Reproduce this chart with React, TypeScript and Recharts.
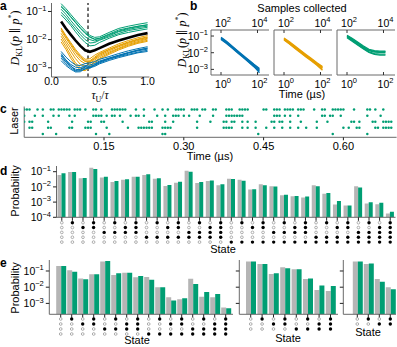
import React from "react";
import {
  LineChart,
  Line,
  BarChart,
  Bar,
  ScatterChart,
  Scatter,
  XAxis,
  YAxis,
  ReferenceLine,
} from "recharts";

const BLUE = "#0072B2";
const ORANGE = "#E69F00";
const GREEN = "#009E73";
const GRAY = "#b5b5b5";
const SPINE = "#6a6a6a";
const FONT = "'Liberation Sans', Arial, sans-serif";
const MATH = "'Liberation Serif', 'DejaVu Serif', serif";

// ---- panel a : D_KL vs tau_U / tau
const tauRatio = [0.1, 0.15, 0.2, 0.25, 0.3, 0.35, 0.4, 0.45, 0.5, 0.6, 0.7, 0.8, 0.9, 1.0];
const tauMark = 0.38;
const aGreen = [
  [1.9e-1, 1.26e-1, 7.9e-2, 5.0e-2, 3.2e-2, 2.1e-2, 1.4e-2, 1.2e-2, 1.26e-2, 1.8e-2, 2.5e-2, 3.0e-2, 3.5e-2, 4.0e-2],
  [1.45e-1, 1.0e-1, 6.3e-2, 4.0e-2, 2.5e-2, 1.66e-2, 1.2e-2, 1.05e-2, 1.12e-2, 1.58e-2, 2.2e-2, 2.6e-2, 3.0e-2, 3.4e-2],
  [1.2e-1, 7.9e-2, 4.8e-2, 3.0e-2, 1.9e-2, 1.26e-2, 1.0e-2, 8.9e-3, 1.0e-2, 1.38e-2, 1.9e-2, 2.3e-2, 2.7e-2, 3.0e-2],
  [9.3e-2, 6.3e-2, 3.8e-2, 2.4e-2, 1.5e-2, 1.0e-2, 7.6e-3, 7.9e-3, 9.5e-3, 1.26e-2, 1.66e-2, 2.1e-2, 2.4e-2, 2.75e-2],
  [7.6e-2, 5.0e-2, 3.2e-2, 1.9e-2, 1.17e-2, 7.9e-3, 6.0e-3, 6.3e-3, 7.9e-3, 1.12e-2, 1.5e-2, 1.8e-2, 2.1e-2, 2.4e-2],
  [1.58e-1, 1.07e-1, 6.6e-2, 4.2e-2, 2.6e-2, 1.78e-2, 1.26e-2, 1.0e-2, 1.1e-2, 1.5e-2, 2.0e-2, 2.5e-2, 2.95e-2, 3.3e-2],
];
const aOrange = [
  [2.6e-2, 1.4e-2, 7.9e-3, 4.5e-3, 2.8e-3, 2.0e-3, 2.1e-3, 2.8e-3, 3.5e-3, 5.0e-3, 7.1e-3, 9.3e-3, 1.17e-2, 1.4e-2],
  [2.1e-2, 1.12e-2, 6.3e-3, 3.5e-3, 2.2e-3, 1.66e-3, 1.78e-3, 2.4e-3, 3.2e-3, 4.5e-3, 6.3e-3, 8.3e-3, 1.05e-2, 1.26e-2],
  [1.66e-2, 8.9e-3, 5.0e-3, 2.8e-3, 1.78e-3, 1.41e-3, 1.58e-3, 2.1e-3, 2.75e-3, 4.0e-3, 5.6e-3, 7.4e-3, 9.3e-3, 1.12e-2],
  [1.32e-2, 7.1e-3, 3.8e-3, 2.1e-3, 1.32e-3, 1.12e-3, 1.41e-3, 1.9e-3, 2.5e-3, 3.6e-3, 5.0e-3, 6.8e-3, 8.5e-3, 1.05e-2],
  [1.05e-2, 5.6e-3, 2.8e-3, 1.5e-3, 1.0e-3, 8.9e-4, 1.2e-3, 1.66e-3, 2.2e-3, 3.3e-3, 4.7e-3, 6.3e-3, 7.9e-3, 9.5e-3],
  [8.3e-3, 4.5e-3, 2.2e-3, 1.26e-3, 8.3e-4, 7.9e-4, 1.05e-3, 1.5e-3, 2.0e-3, 3.0e-3, 4.3e-3, 5.8e-3, 7.4e-3, 8.7e-3],
  [2.4e-2, 1.26e-2, 7.1e-3, 4.0e-3, 2.5e-3, 1.78e-3, 1.66e-3, 2.2e-3, 3.0e-3, 4.4e-3, 6.0e-3, 7.9e-3, 1.0e-2, 1.2e-2],
];
const aBlue = [
  [3.8e-3, 2.4e-3, 1.66e-3, 1.26e-3, 1.2e-3, 1.41e-3, 1.5e-3, 1.66e-3, 2.0e-3, 2.5e-3, 3.2e-3, 4.0e-3, 4.8e-3, 5.6e-3],
  [3.2e-3, 1.9e-3, 1.32e-3, 1.05e-3, 1.0e-3, 1.2e-3, 1.26e-3, 1.41e-3, 1.74e-3, 2.2e-3, 2.8e-3, 3.5e-3, 4.3e-3, 5.0e-3],
  [2.6e-3, 1.58e-3, 1.12e-3, 8.9e-4, 8.3e-4, 1.05e-3, 1.12e-3, 1.26e-3, 1.58e-3, 2.1e-3, 2.6e-3, 3.3e-3, 4.0e-3, 4.6e-3],
  [2.2e-3, 1.38e-3, 1.0e-3, 7.6e-4, 7.9e-4, 8.9e-4, 1.05e-3, 1.2e-3, 1.48e-3, 2.0e-3, 2.5e-3, 3.0e-3, 3.6e-3, 4.2e-3],
  [1.78e-3, 1.2e-3, 8.9e-4, 7.1e-4, 7.2e-4, 9.5e-4, 1.0e-3, 1.12e-3, 1.38e-3, 1.82e-3, 2.3e-3, 2.8e-3, 3.4e-3, 3.8e-3],
  [2.8e-3, 1.78e-3, 1.2e-3, 7.9e-4, 8.9e-4, 1.12e-3, 9.5e-4, 1.32e-3, 1.62e-3, 2.2e-3, 2.75e-3, 3.4e-3, 4.2e-3, 5.0e-3],
];
const aMean = [4.4e-2, 2.5e-2, 1.5e-2, 9.3e-3, 6.0e-3, 4.2e-3, 3.7e-3, 4.2e-3, 5.0e-3, 7.1e-3, 9.3e-3, 1.17e-2, 1.45e-2, 1.7e-2];

// ---- panel b : D_KL vs time (us); samples = 100 x time
const bTime = [1, 2, 4, 8, 16, 32, 64, 128];
const bBlue = [
  [8.3e-2, 4.8e-2, 2.5e-2, 1.32e-2, 7.1e-3, 3.8e-3, 2.0e-3, 1.12e-3],
  [7.2e-2, 4.2e-2, 2.2e-2, 1.17e-2, 6.3e-3, 3.2e-3, 1.66e-3, 8.9e-4],
  [6.3e-2, 3.6e-2, 1.9e-2, 1.0e-2, 5.4e-3, 2.8e-3, 1.45e-3, 7.6e-4],
  [7.9e-2, 4.4e-2, 2.3e-2, 1.26e-2, 6.0e-3, 3.5e-3, 1.9e-3, 1.0e-3],
  [6.8e-2, 3.8e-2, 2.1e-2, 1.07e-2, 5.8e-3, 3.0e-3, 1.5e-3, 6.3e-4],
];
const bOrange = [
  [7.6e-2, 4.5e-2, 2.5e-2, 1.41e-2, 7.9e-3, 4.5e-3, 2.5e-3, 1.5e-3],
  [6.6e-2, 3.8e-2, 2.1e-2, 1.17e-2, 6.6e-3, 3.8e-3, 2.1e-3, 1.2e-3],
  [5.8e-2, 3.3e-2, 1.82e-2, 1.0e-2, 5.6e-3, 3.2e-3, 1.74e-3, 8.9e-4],
  [7.1e-2, 4.0e-2, 2.3e-2, 1.26e-2, 6.9e-3, 4.0e-3, 2.3e-3, 1.32e-3],
  [6.2e-2, 3.5e-2, 1.9e-2, 1.1e-2, 6.0e-3, 3.5e-3, 1.9e-3, 1.0e-3],
];
const bGreen = [
  [1.12e-1, 7.1e-2, 4.2e-2, 2.5e-2, 1.58e-2, 1.32e-2, 1.26e-2, 1.26e-2],
  [1.0e-1, 6.0e-2, 3.5e-2, 2.1e-2, 1.32e-2, 1.1e-2, 1.05e-2, 1.05e-2],
  [8.9e-2, 5.2e-2, 3.0e-2, 1.82e-2, 1.12e-2, 8.9e-3, 8.3e-3, 8.3e-3],
  [1.05e-1, 6.3e-2, 3.8e-2, 2.2e-2, 1.41e-2, 1.2e-2, 1.1e-2, 1.15e-2],
  [7.9e-2, 4.8e-2, 2.8e-2, 1.66e-2, 1.05e-2, 7.9e-3, 7.2e-3, 7.1e-3],
];

// ---- panel c : laser firing slots (5 ns each), one list per laser
const slotWidth = 0.005;
const laserSlots = [
  [0, 1, 2, 5, 7, 10, 11, 13, 14, 15, 16, 17, 19, 20, 21, 23, 26, 27, 29, 33, 34, 35, 36, 37, 38, 42, 45, 49, 52, 54, 57, 58, 59, 60, 63, 64, 65, 67, 68, 71, 72, 76, 77, 78, 81, 82, 83, 84, 90, 91, 94, 95, 96, 98, 99, 100, 101, 103, 104, 105, 109, 112, 113, 116, 117, 118, 119, 120, 124, 129, 130, 132, 135],
  [0, 4, 7, 11, 13, 17, 19, 26, 27, 28, 29, 31, 33, 34, 36, 40, 42, 43, 45, 50, 53, 56, 57, 58, 60, 62, 66, 71, 76, 77, 78, 79, 80, 81, 82, 94, 95, 96, 98, 100, 103, 112, 113, 115, 116, 119, 129, 134],
  [0, 2, 3, 9, 18, 24, 25, 29, 30, 37, 47, 48, 53, 56, 65, 70, 75, 76, 78, 79, 82, 84, 87, 93, 94, 96, 97, 100, 104, 110, 114, 123, 124, 126, 131, 132, 135, 136, 137, 138],
  [2, 3, 9, 10, 17, 18, 23, 24, 25, 31, 39, 43, 44, 45, 46, 47, 48, 52, 53, 54, 55, 65, 75, 76, 77, 78, 82, 84, 87, 91, 94, 97, 100, 103, 106, 110, 120, 122, 125, 126, 132, 133, 135, 136, 137, 138],
  [7, 12, 27, 32, 52, 53, 88, 116, 129],
];
const cTicks = [30, 60, 90, 120];

// ---- panel d : 5-laser state probabilities
const dTarget = [0.06, 0.096, 0.037, 0.184, 0.041, 0.021, 0.03, 0.047, 0.06, 0.035, 0.0114, 0.019, 0.115, 0.018, 0.024, 0.013, 0.034, 0.03, 0.0068, 0.015, 0.011, 0.0028, 0.0024, 0.002, 0.013, 0.0035, 0.0007, 0.0006, 0.011, 0.0008, 0.00072, 0.00018];
const dMeasured = [0.078, 0.096, 0.039, 0.151, 0.047, 0.024, 0.032, 0.047, 0.067, 0.037, 0.0133, 0.022, 0.1, 0.021, 0.026, 0.0148, 0.033, 0.025, 0.0071, 0.013, 0.0105, 0.0031, 0.0025, 0.0023, 0.011, 0.004, 0.0012, 0.0006, 0.0092, 0.00098, 0.0009, 0.00023];

// ---- panel e : 4-, 3- and 2-laser state probabilities
const e16Target = [0.2, 0.11, 0.035, 0.062, 0.38, 0.057, 0.079, 0.041, 0.042, 0.01, 0.0024, 0.0018, 0.033, 0.0026, 0.0024, 0.00055];
const e16Measured = [0.2, 0.091, 0.031, 0.062, 0.41, 0.072, 0.079, 0.049, 0.029, 0.0099, 0.0015, 0.0021, 0.016, 0.0051, 0.0038, 0.0005];
const e8Target = [0.38, 0.27, 0.065, 0.168, 0.127, 0.032, 0.0067, 0.0058];
const e8Measured = [0.38, 0.27, 0.072, 0.146, 0.13, 0.035, 0.0125, 0.012];
const e4Target = [0.38, 0.27, 0.032, 0.0098];
const e4Measured = [0.38, 0.29, 0.022, 0.0075];

// state labels: laser 1 first (top row), "1" = fired
const makeStates = (n: number, bits: number) =>
  Array.from({ length: n }, (_, i) =>
    Array.from({ length: bits }, (_, r) => ((i >> r) & 1 ? "1" : "0")).join("")
  );

const aRows = tauRatio.map((x, i) => {
  const row: Record<string, number> = { x, mean: aMean[i] };
  aGreen.forEach((s, k) => (row["g" + k] = s[i]));
  aOrange.forEach((s, k) => (row["o" + k] = s[i]));
  aBlue.forEach((s, k) => (row["b" + k] = s[i]));
  return row;
});

const bRows = (set: number[][]) =>
  bTime.map((t, i) => {
    const row: Record<string, number> = { t };
    set.forEach((s, k) => (row["s" + k] = s[i]));
    return row;
  });

const cDots = laserSlots.flatMap((slots, k) => slots.map((slot) => ({ slot, laser: k + 1 })));

const barRows = (target: number[], measured: number[], bits: number) => {
  const states = makeStates(target.length, bits);
  return states.map((state, i) => ({ state, target: target[i], measured: measured[i] }));
};

const sup = (e: number) => (e < 0 ? "\u2212" + -e : String(e));

function PowTick(props: any) {
  const { x, y, payload, side = "left", shift = 0, inward = false, m = 3, blank = false } = props;
  if (blank) return <g />;
  const e = Math.round(Math.log10(payload.value)) + shift;
  const label = (tx: number, ty: number, anchor: string) => (
    <text x={tx} y={ty} textAnchor={anchor} fontSize={10.5} fill="#000" fontFamily={FONT}>
      <tspan>10</tspan>
      <tspan dy={-4.5} fontSize={7.5}>
        {sup(e)}
      </tspan>
    </text>
  );
  if (side === "left") {
    return (
      <g>
        {inward && <line x1={x + m} x2={x + m + 3} y1={y} y2={y} stroke="#333" />}
        {label(x, y + 3.8, "end")}
      </g>
    );
  }
  if (side === "top") {
    return (
      <g>
        {inward && <line x1={x} x2={x} y1={y + m} y2={y + m + 3} stroke="#333" />}
        {label(x + 2, y - 0.5, "middle")}
      </g>
    );
  }
  return (
    <g>
      {inward && <line x1={x} x2={x} y1={y - m} y2={y - m - 3} stroke="#333" />}
      {label(x + 2, y + 9.5, "middle")}
    </g>
  );
}

function StateTick(props: any) {
  const { x, y, payload, step, first } = props;
  const bits: string = payload.value;
  return (
    <g>
      {bits.split("").map((b, r) =>
        b === "1" ? (
          <circle key={r} cx={x} cy={y + first + r * step} r={1.7} fill="#000" />
        ) : (
          <circle key={r} cx={x} cy={y + first + r * step} r={1.35} fill="#fff" stroke="#9a9a9a" strokeWidth={0.8} />
        )
      )}
    </g>
  );
}

const laserDot = (p: any) => <circle cx={p.cx} cy={p.cy} r={1.25} fill={GREEN} />;

function KLLabel({ x, y }: { x: number; y: number }) {
  return (
    <text transform={`translate(${x},${y}) rotate(-90)`} textAnchor="middle" fontFamily={MATH} fontSize={12}>
      <tspan fontStyle="italic">D</tspan>
      <tspan fontSize={8} dy={2.5}>KL</tspan>
      <tspan dy={-2.5}>(</tspan>
      <tspan fontStyle="italic">p</tspan>
      <tspan> {"\u2225"} </tspan>
      <tspan fontStyle="italic">p</tspan>
      <tspan fontSize={8} dy={-5}>*</tspan>
      <tspan dy={5}>)</tspan>
    </text>
  );
}

const B_DOMAIN = [0.283, 427];
const bSpines = [211, 274, 337];
const bSets = [
  { data: bRows(bBlue), color: BLUE, n: bBlue.length },
  { data: bRows(bOrange), color: ORANGE, n: bOrange.length },
  { data: bRows(bGreen), color: GREEN, n: bGreen.length },
];

function ProbChart(props: any) {
  const { rows, bits, width, height, yWidth, marginTop, marginRight, xHeight, domain, padL, padR, step, first, labels, ticks } = props;
  return (
    <BarChart
      width={width}
      height={height}
      data={rows}
      margin={{ top: marginTop, right: marginRight, bottom: 0, left: 0 }}
      barGap={0}
      barCategoryGap={1}
    >
      <XAxis
        dataKey="state"
        interval={0}
        height={xHeight}
        padding={{ left: padL, right: padR }}
        axisLine={{ stroke: SPINE }}
        tickLine={{ stroke: "#222" }}
        tickSize={3.5}
        tickMargin={0}
        tick={<StateTick step={step} first={first} rows={bits} />}
      />
      <YAxis
        type="number"
        scale="log"
        domain={domain}
        allowDataOverflow
        ticks={ticks}
        interval={0}
        width={yWidth}
        axisLine={{ stroke: SPINE }}
        tickLine={{ stroke: "#222" }}
        tickSize={3.5}
        tickMargin={2}
        tick={<PowTick side="left" blank={!labels} />}
      />
      <Bar dataKey="target" fill={GRAY} isAnimationActive={false} />
      <Bar dataKey="measured" fill={GREEN} isAnimationActive={false} />
    </BarChart>
  );
}

export default function App() {
  const abs = (left: number, top: number): React.CSSProperties => ({ position: "absolute", left, top });
  return (
    <div
      style={{
        position: "absolute",
        left: 0,
        top: 0,
        width: 397,
        height: 347,
        background: "#fff",
        fontFamily: FONT,
        overflow: "hidden",
      }}
    >
      {/* a */}
      <div style={abs(0, 0)}>
        <LineChart width={160} height={105} data={aRows} margin={{ top: 3, right: 10.5, bottom: 0, left: 0 }}>
          <XAxis
            type="number"
            dataKey="x"
            domain={[0, 1.02]}
            allowDataOverflow
            ticks={[0, 0.5, 1]}
            interval={0}
            tickFormatter={(v: number) => v.toFixed(1)}
            height={28}
            tickLine={false}
            tickSize={0}
            tickMargin={0.5}
            axisLine={{ stroke: SPINE }}
            tick={{ fontSize: 10.5, fill: "#000" }}
          />
          <YAxis
            type="number"
            scale="log"
            domain={[4.7e-4, 0.2]}
            allowDataOverflow
            ticks={[0.1, 0.01, 0.001]}
            interval={0}
            width={51.5}
            tickSize={3.5}
            tickMargin={1.5}
            axisLine={{ stroke: SPINE }}
            tickLine={{ stroke: "#222" }}
            tick={<PowTick side="left" />}
          />
          <ReferenceLine x={tauMark} stroke="#111" strokeDasharray="3.5 2.5" strokeWidth={1.2} />
          {aGreen.map((_, k) => (
            <Line key={"g" + k} dataKey={"g" + k} stroke={GREEN} strokeWidth={1} dot={false} isAnimationActive={false} />
          ))}
          {aOrange.map((_, k) => (
            <Line key={"o" + k} dataKey={"o" + k} stroke={ORANGE} strokeWidth={1} dot={false} isAnimationActive={false} />
          ))}
          {aBlue.map((_, k) => (
            <Line key={"b" + k} dataKey={"b" + k} stroke={BLUE} strokeWidth={1} dot={false} isAnimationActive={false} />
          ))}
          <Line dataKey="mean" stroke="#000" strokeWidth={2.6} dot={false} isAnimationActive={false} />
        </LineChart>
      </div>

      {/* b */}
      {bSets.map((set, i) => (
        <div key={i} style={abs(bSpines[i] - 30, 10)}>
          <LineChart width={89} height={90} data={set.data} margin={{ top: 0, right: 1, bottom: 0, left: 0 }}>
            <XAxis
              xAxisId="bottom"
              type="number"
              scale="log"
              dataKey="t"
              domain={B_DOMAIN}
              allowDataOverflow
              ticks={[1, 100]}
              interval={0}
              height={25}
              tickLine={false}
              tickSize={0}
              tickMargin={3}
              axisLine={{ stroke: SPINE }}
              tick={<PowTick side="bottom" inward m={3} />}
            />
            <XAxis
              xAxisId="top"
              orientation="top"
              type="number"
              scale="log"
              dataKey="t"
              domain={B_DOMAIN}
              allowDataOverflow
              ticks={[1, 100]}
              interval={0}
              height={20}
              tickLine={false}
              tickSize={0}
              tickMargin={3}
              axisLine={{ stroke: SPINE }}
              tick={<PowTick side="top" shift={2} inward m={3} />}
            />
            <YAxis
              type="number"
              scale="log"
              domain={[4.6e-4, 0.23]}
              allowDataOverflow
              ticks={[0.1, 0.01, 0.001]}
              interval={0}
              width={30}
              tickLine={false}
              tickSize={0}
              tickMargin={3}
              axisLine={{ stroke: SPINE }}
              tick={<PowTick side="left" inward m={3} blank={i > 0} />}
            />
            {Array.from({ length: set.n }, (_, k) => (
              <Line
                key={k}
                xAxisId={k === 0 ? "top" : "bottom"}
                dataKey={"s" + k}
                stroke={set.color}
                strokeWidth={1.3}
                dot={false}
                isAnimationActive={false}
              />
            ))}
          </LineChart>
        </div>
      ))}

      {/* c */}
      <div style={abs(0, 100)}>
        <ScatterChart width={397} height={60} margin={{ top: 6.5, right: 0.4, bottom: 0, left: 0 }}>
          <XAxis
            type="number"
            dataKey="slot"
            domain={[0, 140]}
            allowDataOverflow
            ticks={cTicks}
            interval={0}
            tickFormatter={(v: number) => (v * slotWidth).toFixed(2)}
            height={22.7}
            tickSize={3}
            tickMargin={1.5}
            axisLine={{ stroke: SPINE }}
            tickLine={{ stroke: "#222" }}
            tick={{ fontSize: 11, fill: "#000" }}
          />
          <YAxis
            type="number"
            dataKey="laser"
            domain={[0.5, 5.55]}
            reversed
            allowDataOverflow
            width={24.2}
            tick={false}
            tickLine={false}
            axisLine={{ stroke: SPINE }}
          />
          <Scatter data={cDots} shape={laserDot} isAnimationActive={false} />
        </ScatterChart>
      </div>

      {/* d */}
      <div style={abs(0, 160)}>
        <ProbChart
          rows={barRows(dTarget, dMeasured, 5)}
          bits={5}
          width={397}
          height={95}
          yWidth={56.5}
          marginTop={6}
          marginRight={1.5}
          xHeight={37.7}
          domain={[1e-4, 0.237]}
          padL={0}
          padR={0}
          step={4.85}
          first={1.9}
          labels
          ticks={[0.1, 0.01, 0.001, 0.0001]}
        />
      </div>

      {/* e */}
      <div style={abs(0, 255)}>
        <ProbChart
          rows={barRows(e16Target, e16Measured, 4)}
          bits={4}
          width={240}
          height={92}
          yWidth={49.3}
          marginTop={5}
          marginRight={7}
          xHeight={32.7}
          domain={[2.12e-4, 0.477]}
          padL={5.9}
          padR={1.8}
          step={5}
          first={1.2}
          labels
          ticks={[0.1, 0.01, 0.001]}
        />
      </div>
      <div style={abs(200, 255)}>
        <ProbChart
          rows={barRows(e8Target, e8Measured, 3)}
          bits={3}
          width={139}
          height={92}
          yWidth={39.3}
          marginTop={5}
          marginRight={1}
          xHeight={32.7}
          domain={[2.12e-4, 0.477]}
          padL={5.7}
          padR={1.8}
          step={5}
          first={1.2}
          labels={false}
          ticks={[0.1, 0.01, 0.001]}
        />
      </div>
      <div style={abs(310, 255)}>
        <ProbChart
          rows={barRows(e4Target, e4Measured, 2)}
          bits={2}
          width={87}
          height={92}
          yWidth={33.3}
          marginTop={5}
          marginRight={1}
          xHeight={32.7}
          domain={[2.12e-4, 0.477]}
          padL={8.5}
          padR={0.2}
          step={5}
          first={1.2}
          labels={false}
          ticks={[0.1, 0.01, 0.001]}
        />
      </div>

      {/* labels */}
      <svg width={397} height={347} style={{ position: "absolute", left: 0, top: 0, pointerEvents: "none" }}>
        <g fontFamily={FONT} fill="#000">
          <text x={0} y={10} fontSize={12} fontWeight="bold">a</text>
          <text x={190} y={10} fontSize={12} fontWeight="bold">b</text>
          <text x={0} y={113} fontSize={12} fontWeight="bold">c</text>
          <text x={0} y={175} fontSize={12} fontWeight="bold">d</text>
          <text x={0} y={267} fontSize={12} fontWeight="bold">e</text>

          <KLLabel x={19} y={38} />
          <KLLabel x={186} y={40} />
          <text x={100} y={99} textAnchor="middle" fontFamily={MATH} fontSize={11.5}>
            <tspan fontStyle="italic">τ</tspan>
            <tspan fontSize={8} dy={2.5}>U</tspan>
            <tspan dy={-2.5}>/</tspan>
            <tspan fontStyle="italic">τ</tspan>
          </text>

          <text x={302} y={12} textAnchor="middle" fontSize={11}>Samples collected</text>
          <text x={302} y={98} textAnchor="middle" fontSize={11}>Time (µs)</text>

          <text transform="translate(18,121) rotate(-90)" textAnchor="middle" fontSize={11}>Laser</text>
          <text x={210} y={160} textAnchor="middle" fontSize={11}>Time (µs)</text>

          <text transform="translate(19,191) rotate(-90)" textAnchor="middle" fontSize={11}>Probability</text>
          <text x={223} y={253} textAnchor="middle" fontSize={11}>State</text>

          <text transform="translate(19,288) rotate(-90)" textAnchor="middle" fontSize={11}>Probability</text>
          <text x={137} y={344} textAnchor="middle" fontSize={11}>State</text>
          <text x={288} y={342} textAnchor="middle" fontSize={11}>State</text>
          <text x={368} y={336} textAnchor="middle" fontSize={11}>State</text>
        </g>
      </svg>
    </div>
  );
}
